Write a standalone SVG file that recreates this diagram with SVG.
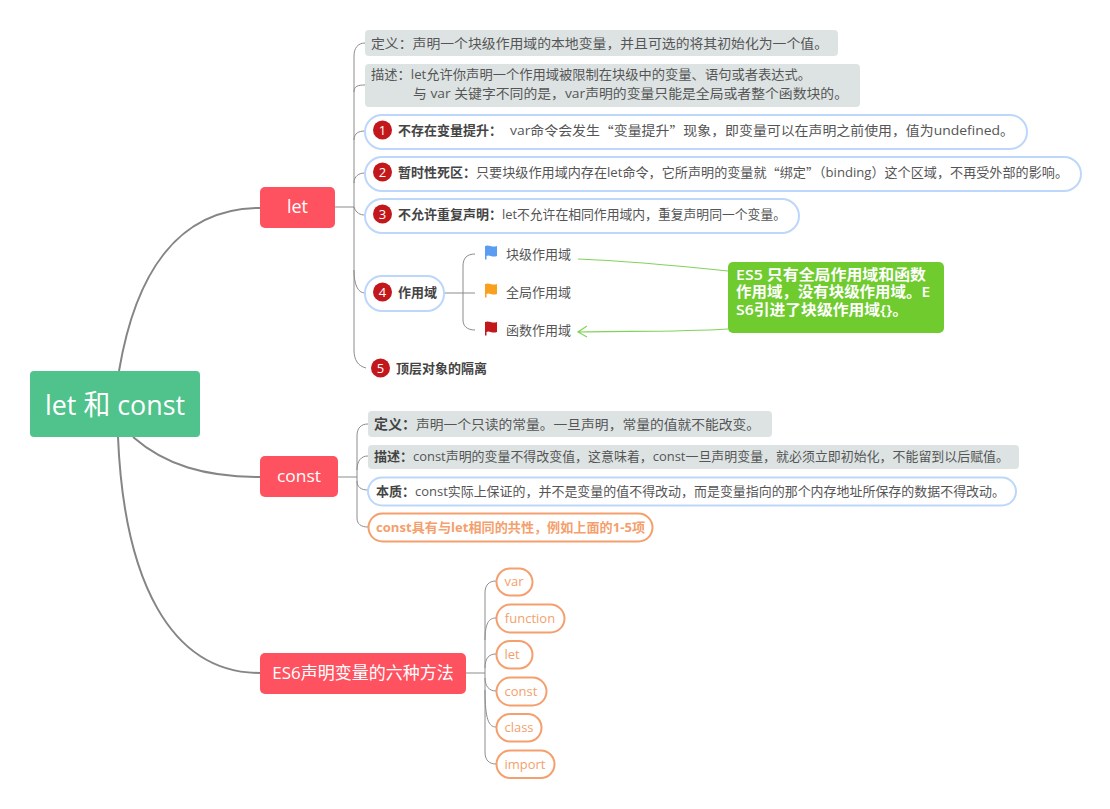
<svg xmlns="http://www.w3.org/2000/svg" width="1110" height="809" viewBox="0 0 1110 809">
<defs>
<style>
text{font-family:"Open Sans","Noto Sans CJK SC","Noto Sans",sans-serif;fill:#555;font-size:13px;dominant-baseline:central}
.q{font-family:"Noto Sans CJK SC",sans-serif}
.b{font-weight:700;fill:#444}
.w{fill:#fff}
.mid{text-anchor:middle}
.n{font-size:13px}
.main{fill:#ff5260}
.grey{fill:#dde3e3}
.blue{fill:#fff;stroke:#bcd7fb;stroke-width:2}
.or{fill:#fff;stroke:#f49f6d;stroke-width:2}
.ot{fill:#f49f6d}
.badge{fill:#c2181c}
.c1{fill:none;stroke:#858585;stroke-width:2}
.c2{fill:none;stroke:#8c8c8c;stroke-width:1}
.g{fill:none;stroke:#82d25a;stroke-width:1.2}
.note{font-size:14.500px;font-weight:600}
</style>
<path id="flag" d="M0 1C4 -1 7 3 12 1V11C7 13 4 9 1.500 11V14.500H0Z"/>
</defs>
<g id="connectors">
<path class="c1" d="M119 371C136 270 180 208 260 208"/>
<path class="c1" d="M133 437C165 465 205 477 260 477"/>
<path class="c1" d="M118 437C124 580 170 673 260 673"/>
<path class="c2" d="M335 207H354"/>
<path class="c2" d="M365 43C358 43 354 48 354 56V350C354 360 358 366 366 368"/>
<path class="c2" d="M354 92C354 86 358 85 365 85"/>
<path class="c2" d="M354 140C354 133 359 131 365 131"/>
<path class="c2" d="M354 183C354 176 359 173 365 173"/>
<path class="c2" d="M354 207C356 213 360 215 365 215"/>
<path class="c2" d="M354 270C354 285 358 293 365 293"/>
<path class="c2" d="M444 293H475"/>
<path class="c2" d="M475 254C467 254 463 258 463 266V320C463 326 467 330 475 330"/>
<path class="c2" d="M338 477H357"/>
<path class="c2" d="M368 424C361 424 357 428 357 436V518C357 524 361 527 368 527"/>
<path class="c2" d="M357 470C357 461 361 456 368 456"/>
<path class="c2" d="M357 481C357 487 361 490 368 490"/>
<path class="c2" d="M466 673H485"/>
<path class="c2" d="M496 581C489 581 485 585 485 593V752C485 760 489 764 496 764"/>
<path class="c2" d="M485 640C485 623 489 618 496 618"/>
<path class="c2" d="M485 668C485 658 489 654 496 654"/>
<path class="c2" d="M485 678C485 686 489 691 496 691"/>
<path class="c2" d="M485 690C485 720 489 727 496 727"/>
<path class="g" d="M578 259C630 261 680 266 728 271"/>
<path class="g" d="M728 329C680 332 630 331 578 332M587 326L578 332L587 337"/>
</g>
<g id="root"><rect x="30" y="371" width="170" height="66" rx="4" fill="#50c28c"/><text class="w" x="45" y="403.500" style="font-size:28px" textLength="140" lengthAdjust="spacingAndGlyphs">let 和 const</text></g>
<g id="let"><rect class="main" x="260" y="187" width="75" height="41" rx="5"/><text class="w mid" x="297.500" y="206" style="font-size:18px">let</text></g>
<g id="let-def"><rect class="grey" x="365" y="30" width="473" height="26" rx="4"/><text x="371" y="42.500" textLength="457" lengthAdjust="spacingAndGlyphs">定义：声明一个块级作用域的本地变量，并且可选的将其初始化为一个值。</text></g>
<g id="let-desc"><rect class="grey" x="365" y="64" width="495" height="43" rx="4"/><text x="371" y="74" textLength="440" lengthAdjust="spacingAndGlyphs">描述：let允许你声明一个作用域被限制在块级中的变量、语句或者表达式。</text><text x="413" y="93" textLength="435" lengthAdjust="spacingAndGlyphs">与 var 关键字不同的是，var声明的变量只能是全局或者整个函数块的。</text></g>
<g id="let-1"><rect class="blue" x="365" y="115" width="662" height="34" rx="17"/><circle class="badge" cx="382.500" cy="130" r="9.500"/><text class="w mid" x="382.500" y="130">1</text><text class="b" x="398" y="130">不存在变量提升：</text><text x="510" y="130" textLength="504" lengthAdjust="spacingAndGlyphs">var命令会发生<tspan class="q">“</tspan>变量提升<tspan class="q">”</tspan>现象，即变量可以在声明之前使用，值为undefined。</text></g>
<g id="let-2"><rect class="blue" x="365" y="157" width="716" height="34" rx="17"/><circle class="badge" cx="382.500" cy="172" r="9.500"/><text class="w mid" x="382.500" y="172">2</text><text class="b" x="398" y="172">暂时性死区：</text><text x="476" y="172" textLength="592" lengthAdjust="spacingAndGlyphs">只要块级作用域内存在let命令，它所声明的变量就<tspan class="q">“</tspan>绑定<tspan class="q">”</tspan>（binding）这个区域，不再受外部的影响。</text></g>
<g id="let-3"><rect class="blue" x="365" y="199" width="434" height="34" rx="17"/><circle class="badge" cx="382.500" cy="214" r="9.500"/><text class="w mid" x="382.500" y="214">3</text><text class="b" x="398" y="214">不允许重复声明：</text><text x="502" y="214" textLength="284" lengthAdjust="spacingAndGlyphs">let不允许在相同作用域内，重复声明同一个变量。</text></g>
<g id="let-4"><rect class="blue" x="365" y="276" width="79" height="35" rx="17"/><circle class="badge" cx="382.500" cy="292" r="9.500"/><text class="w mid" x="382.500" y="292">4</text><text class="b" x="398" y="292">作用域</text></g>
<g id="let-5"><circle class="badge" cx="380.500" cy="368" r="9.500"/><text class="w mid" x="380.500" y="368">5</text><text class="b" x="396" y="368">顶层对象的隔离</text></g>
<g id="scope-block"><use href="#flag" x="485" y="245" fill="#5b9df0"/><text x="506" y="254">块级作用域</text></g>
<g id="scope-global"><use href="#flag" x="485" y="283" fill="#f9a01f"/><text x="506" y="291.500">全局作用域</text></g>
<g id="scope-func"><use href="#flag" x="485" y="321" fill="#c2181c"/><text x="506" y="329.500">函数作用域</text></g>
<g id="note"><rect x="728" y="262" width="216" height="71" rx="5" fill="#70cb2f"/><text class="w note" x="736" y="274" textLength="190" lengthAdjust="spacingAndGlyphs">ES5 只有全局作用域和函数</text><text class="w note" x="736" y="291.500" textLength="194" lengthAdjust="spacingAndGlyphs">作用域，没有块级作用域。E</text><text class="w note" x="736" y="309.500" textLength="172" lengthAdjust="spacingAndGlyphs">S6引进了块级作用域{}。</text></g>
<g id="const"><rect class="main" x="260" y="456" width="78" height="41" rx="5"/><text class="w mid" x="299" y="475.500" style="font-size:17px" textLength="44" lengthAdjust="spacingAndGlyphs">const</text></g>
<g id="const-def"><rect class="grey" x="368" y="411" width="404" height="26" rx="4"/><text class="b" x="374" y="423.500" style="font-size:14px">定义：</text><text x="416" y="423.500" textLength="344" lengthAdjust="spacingAndGlyphs">声明一个只读的常量。一旦声明，常量的值就不能改变。</text></g>
<g id="const-desc"><rect class="grey" x="368" y="445" width="651" height="24" rx="4"/><text class="b" x="374" y="456">描述：</text><text x="413" y="456" textLength="596" lengthAdjust="spacingAndGlyphs">const声明的变量不得改变值，这意味着，const一旦声明变量，就必须立即初始化，不能留到以后赋值。</text></g>
<g id="const-essence"><rect class="blue" x="368" y="477.500" width="648" height="28" rx="14"/><text class="b" x="376" y="490.500">本质：</text><text x="415" y="490.500" textLength="590" lengthAdjust="spacingAndGlyphs">const实际上保证的，并不是变量的值不得改动，而是变量指向的那个内存地址所保存的数据不得改动。</text></g>
<g id="const-common"><rect class="or" x="368.500" y="513.500" width="284" height="28" rx="14"/><text class="ot" x="376" y="526.500" style="font-weight:700" textLength="269" lengthAdjust="spacingAndGlyphs">const具有与let相同的共性，例如上面的1-5项</text></g>
<g id="es6"><rect class="main" x="260" y="653" width="206" height="41" rx="5"/><text class="w mid" x="363" y="672.500" style="font-size:17px">ES6声明变量的六种方法</text></g>
<g id="var"><rect class="or" x="496.500" y="568.500" width="36" height="27" rx="13.500"/><text class="ot mid" x="514" y="581">var</text></g>
<g id="function"><rect class="or" x="496.500" y="604.500" width="68" height="28" rx="14"/><text class="ot mid" x="530" y="618">function</text></g>
<g id="let2"><rect class="or" x="496.500" y="641" width="36" height="27.500" rx="13.700"/><text class="ot mid" x="512" y="654">let</text></g>
<g id="const2"><rect class="or" x="496.500" y="677.500" width="50" height="28" rx="14"/><text class="ot mid" x="521" y="691">const</text></g>
<g id="class"><rect class="or" x="496.500" y="714" width="45" height="27.500" rx="13.700"/><text class="ot mid" x="519" y="727">class</text></g>
<g id="import"><rect class="or" x="496.500" y="750.500" width="58" height="27.500" rx="13.700"/><text class="ot mid" x="525" y="764">import</text></g>
</svg>
